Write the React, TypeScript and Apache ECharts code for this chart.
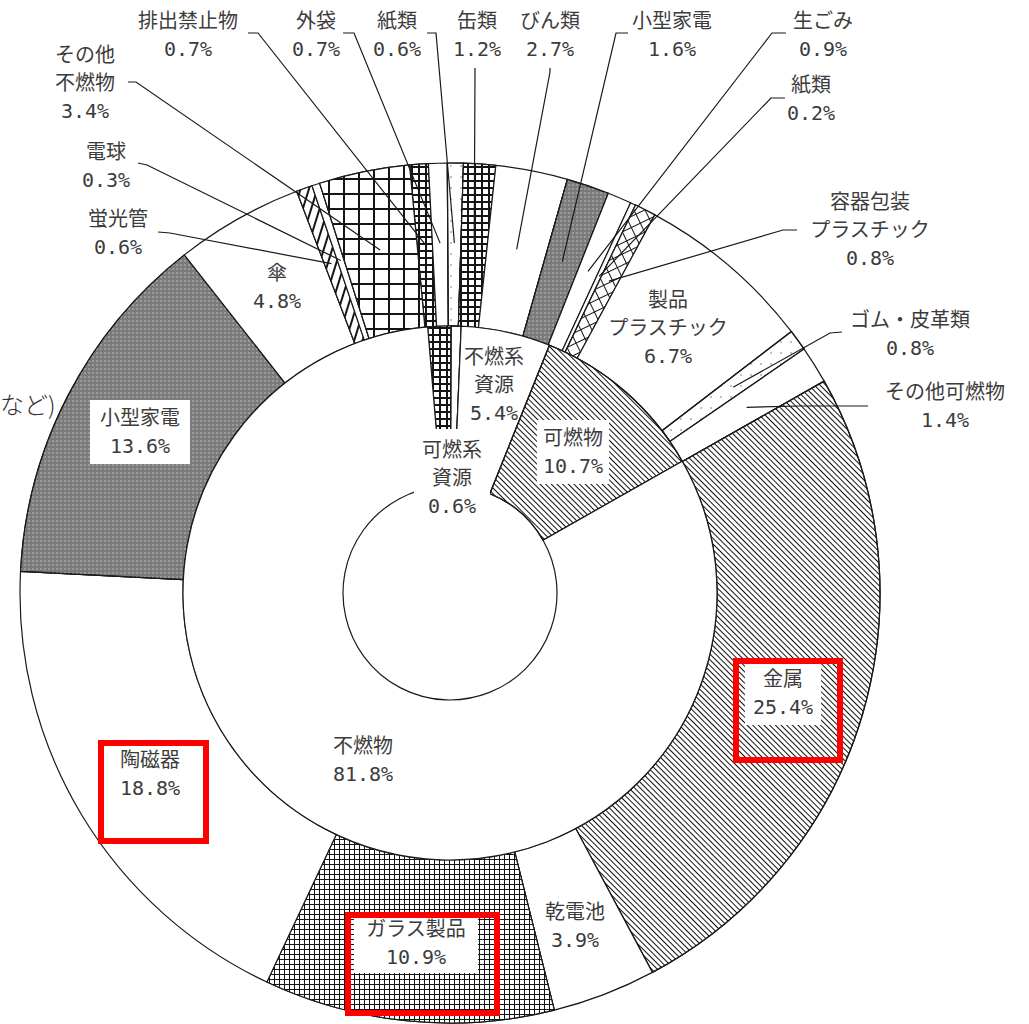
import React, { useEffect, useRef } from 'react';
import * as echarts from 'echarts';

// ---------- data ----------
const outerNames = [
  '排出禁止物', '外袋', '紙類', '缶類', 'びん類', '小型家電', '生ごみ', '紙類',
  '容器包装\nプラスチック', '製品\nプラスチック', 'ゴム・皮革類', 'その他可燃物',
  '金属', '乾電池', 'ガラス製品', '陶磁器', '小型家電', '傘', '蛍光管', '電球', 'その他\n不燃物',
];
const outerValues = [
  0.7, 0.7, 0.6, 1.2, 2.7, 1.6, 0.9, 0.2,
  0.8, 6.7, 0.8, 1.4,
  25.4, 3.9, 10.9, 18.8, 13.6, 4.8, 0.6, 0.3, 3.4,
];
const innerNames = ['その他', '可燃系\n資源', '不燃系\n資源', '可燃物', '不燃物'];
const innerValues = [1.4, 0.6, 5.4, 10.7, 81.8];

// ---------- styles / layout ----------
const CX = 450;
const CY = 593;
const R_HOLE = 107;
const R_MID = 267;
const R_OUT = 430;
const OUTER_START = 95.4;
const INNER_START = 94.8;
const ANCHOR_R = 350;

const outerFill = [
  'gridS', 'white', 'dots', 'gridS', 'white', 'gray', 'white', 'white',
  'gridR', 'white', 'dots', 'white',
  'hatch', 'white', 'gridF', 'white', 'gray', 'white', 'vline', 'white', 'gridL',
];
const innerFill = ['gridS', 'dots', 'white', 'hatch', 'white'];

type Lay = { x: number; y: number; line?: number[][]; box?: number[] };
const outerLayout: Lay[] = [
  { x: 188, y: 35, line: [[258, 33], [248, 33]] },
  { x: 316, y: 35, line: [[354, 33], [343, 33]] },
  { x: 397, y: 35, line: [[436, 33], [427, 33]] },
  { x: 477, y: 35, line: [[475, 72], [475, 68]] },
  { x: 550, y: 35, line: [[550, 72], [550, 68]] },
  { x: 672, y: 35, line: [[616, 33], [628, 33]] },
  { x: 823, y: 35, line: [[772, 33], [786, 33]] },
  { x: 811, y: 99, line: [[771, 98], [785, 98]] },
  { x: 870, y: 230, line: [[783, 230], [797, 230]] },
  { x: 668, y: 328 },
  { x: 910, y: 334, line: [[830, 333], [842, 332]] },
  { x: 945, y: 406, line: [[800, 406], [868, 406]] },
  { x: 783, y: 693, box: [4, 8] },
  { x: 575, y: 926 },
  { x: 416, y: 943, box: [2, 12] },
  { x: 150, y: 774 },
  { x: 140, y: 432, box: [4, 10] },
  { x: 277, y: 287 },
  { x: 118, y: 233, line: [[170, 233], [158, 232]] },
  { x: 106, y: 166, line: [[147, 165], [138, 163]] },
  { x: 85, y: 83, line: [[136, 82], [128, 82]] },
];
const innerLayout: Lay[] = [
  { x: 0, y: 0 },
  { x: 452, y: 478, box: [7, 8] },
  { x: 494, y: 385 },
  { x: 573, y: 452, box: [4, 6] },
  { x: 363, y: 760 },
];

// base fill colour + decal drawn on top of it
const fills: Record<string, { color: string; decal?: any }> = {
  white: { color: '#fff' },
  gridS: { color: '#151515', decal: { symbol: 'rect', symbolSize: 1, color: '#fff', dashArrayX: [5, 2], dashArrayY: [5, 2], rotation: 0 } },
  gridL: { color: '#151515', decal: { symbol: 'rect', symbolSize: 1, color: '#fff', dashArrayX: [13, 2], dashArrayY: [13, 2], rotation: 0 } },
  gridF: { color: '#151515', decal: { symbol: 'rect', symbolSize: 1, color: '#fff', dashArrayX: [4, 1], dashArrayY: [4, 1], rotation: 0 } },
  gridR: { color: '#151515', decal: { symbol: 'rect', symbolSize: 1, color: '#fff', dashArrayX: [9, 1], dashArrayY: [9, 1], rotation: -0.45 } },
  hatch: { color: '#fff', decal: { symbol: 'rect', symbolSize: 1, color: '#111', dashArrayX: [1, 0], dashArrayY: [1, 3], rotation: Math.PI / 4 } },
  vline: { color: '#151515', decal: { symbol: 'rect', symbolSize: 1, color: '#fff', dashArrayX: [6, 2], dashArrayY: [1, 0], rotation: 0.3 } },
  gray: { color: '#7a7a7a', decal: { symbol: 'circle', symbolSize: 1, color: '#a2a2a2', dashArrayX: [2, 2], dashArrayY: [2, 2], rotation: 0 } },
  dots: { color: '#fff', decal: { symbol: 'circle', symbolSize: 0.6, color: '#444', dashArrayX: [2, 8], dashArrayY: [2, 9], rotation: 0 } },
};

const FONT = "'DejaVu Sans Mono', 'Noto Sans CJK JP', sans-serif";
const TEXT_COLOR = '#3c3c3c';
const LINE_COLOR = '#1a1a1a';

function anchors(values: number[], startDeg: number, r: number) {
  const total = values.reduce((a, b) => a + b, 0);
  let cum = 0;
  return values.map((v) => {
    const mid = startDeg - ((cum + v / 2) / total) * 360;
    cum += v;
    const rad = (mid * Math.PI) / 180;
    return [CX + r * Math.cos(rad), CY - r * Math.sin(rad)];
  });
}

function buildData(names: string[], values: number[], fillKeys: string[], layout: Lay[], hideFirst: boolean) {
  return names.map((name, i) => {
    const f = fills[fillKeys[i]];
    const lay = layout[i];
    const item: any = {
      name,
      value: values[i],
      itemStyle: { color: f.color, decal: f.decal },
      label: {
        show: !(hideFirst && i === 0),
        position: lay.line ? 'outside' : 'inside',
        align: 'center',
        backgroundColor: lay.box ? '#fff' : 'transparent',
        padding: lay.box ? lay.box : 0,
      },
      labelLine: { show: false },
    };
    if (!lay.box) item.label.width = 170;
    return item;
  });
}

const outerAnchors = anchors(outerValues, OUTER_START, ANCHOR_R);

export default function App() {
  const ref = useRef<HTMLDivElement>(null);
  useEffect(() => {
    if (!ref.current) return;
    const chart = echarts.init(ref.current, undefined, { renderer: 'svg' });
    const labelCommon = {
      fontSize: 20,
      lineHeight: 28,
      color: TEXT_COLOR,
      fontFamily: FONT,
      formatter: (p: any) => `${p.name}\n${Number(p.value).toFixed(1)}%`,
    };
    const leaderLines = outerLayout
      .map((lay, i) =>
        lay.line
          ? {
              type: 'polyline',
              shape: { points: [lay.line[1], lay.line[0], outerAnchors[i]] },
              style: { stroke: LINE_COLOR, lineWidth: 1.2, fill: 'none' },
              z: 50,
              silent: true,
            }
          : null
      )
      .filter(Boolean);
    chart.setOption({
      animation: false,
      backgroundColor: '#fff',
      series: [
        {
          type: 'pie',
          silent: true,
          center: [CX, CY],
          radius: [R_MID, R_OUT],
          startAngle: OUTER_START,
          clockwise: true,
          avoidLabelOverlap: false,
          itemStyle: { borderColor: LINE_COLOR, borderWidth: 1.2 },
          label: labelCommon,
          labelLine: { show: false },
          labelLayout: (p: any) => {
            const lay = outerLayout[p.dataIndex];
            return { x: lay.x, y: lay.y, align: 'center', verticalAlign: 'middle' };
          },
          emphasis: { disabled: true },
          data: buildData(outerNames, outerValues, outerFill, outerLayout, false),
        },
        {
          type: 'pie',
          silent: true,
          center: [CX, CY],
          radius: [R_HOLE, R_MID],
          startAngle: INNER_START,
          clockwise: true,
          avoidLabelOverlap: false,
          itemStyle: { borderColor: LINE_COLOR, borderWidth: 1.2 },
          label: labelCommon,
          labelLine: { show: false },
          labelLayout: (p: any) => {
            const lay = innerLayout[p.dataIndex];
            return { x: lay.x, y: lay.y, align: 'center', verticalAlign: 'middle' };
          },
          emphasis: { disabled: true },
          data: buildData(innerNames, innerValues, innerFill, innerLayout, true),
        },
      ],
      graphic: [
        ...leaderLines,
        { type: 'rect', shape: { x: 101, y: 743, width: 105, height: 98 }, style: { fill: 'none', stroke: '#f00', lineWidth: 6 }, z: 100 },
        { type: 'rect', shape: { x: 736, y: 661, width: 104, height: 99 }, style: { fill: 'none', stroke: '#f00', lineWidth: 6 }, z: 100 },
        { type: 'rect', shape: { x: 348, y: 915, width: 149, height: 98 }, style: { fill: 'none', stroke: '#f00', lineWidth: 6 }, z: 100 },
        { type: 'text', x: 0, y: 403, style: { text: 'など)', fontSize: 24, fontFamily: "'Noto Sans CJK JP', sans-serif", fontWeight: 300, fill: '#333', verticalAlign: 'middle' }, z: 100 },
      ],
    });
    return () => chart.dispose();
  }, []);
  return <div ref={ref} style={{ position: 'absolute', left: 0, top: 0, width: 1029, height: 1024 }} />;
}
